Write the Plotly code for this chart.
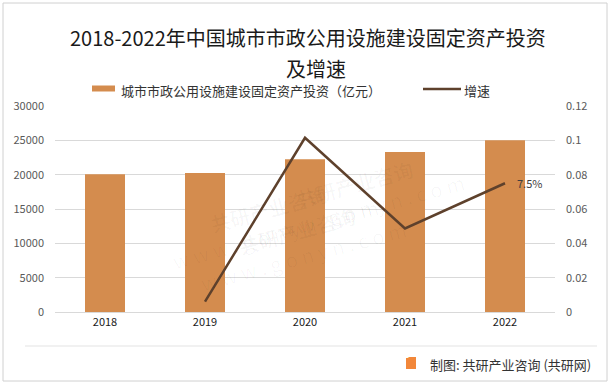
import plotly.graph_objects as go

years = ["2018", "2019", "2020", "2021", "2022"]
investment = [20050, 20250, 22250, 23300, 25000]
growth = [None, 0.006, 0.1015, 0.0487, 0.075]
growth_label = "7.5%"

bar_name = "城市市政公用设施建设固定资产投资（亿元）"
line_name = "增速"
title_line1 = "2018-2022年中国城市市政公用设施建设固定资产投资"
title_line2 = "及增速"
footer_text = "制图: 共研产业咨询 (共研网)"

FONT = "Noto Sans CJK SC, Microsoft YaHei, sans-serif"
BAR_COLOR = "#D48C4E"
LINE_COLOR = "#5E412C"
GRID = "#D9D9D9"

W, H = 615, 386
ML, MR, MT, MB = 55, 60, 106, 74
pw, ph = W - ML - MR, H - MT - MB
def px(x): return (x - ML) / pw
def py(y): return (H - MB - y) / ph

fig = go.Figure()
fig.add_trace(go.Bar(
    x=years, y=investment, name=bar_name,
    marker=dict(color=BAR_COLOR, line=dict(width=0)),
    width=0.4, yaxis="y",
))
fig.add_trace(go.Scatter(
    x=years, y=growth, name=line_name, mode="lines",
    line=dict(color=LINE_COLOR, width=2.5),
    yaxis="y2", connectgaps=False,
))

annotations = []
# faint watermarks
wm = [(160, 165), (470, 140), (300, 300)]
for (wx, wy) in wm:
    annotations.append(dict(
        x=px(wx), y=py(wy), xref="paper", yref="paper", showarrow=False,
        text="<b>共研产业咨询</b><br>w w w . g o n y n . c o m",
        textangle=-15, font=dict(size=20, color="rgba(0,0,0,0.03)", family=FONT),
    ))

# title
annotations.append(dict(x=px(308), y=py(38), xref="paper", yref="paper", showarrow=False,
                        text=title_line1, xanchor="center", yanchor="middle",
                        font=dict(size=20, color="#1a1a1a", family=FONT)))
annotations.append(dict(x=px(316), y=py(68), xref="paper", yref="paper", showarrow=False,
                        text=title_line2, xanchor="center", yanchor="middle",
                        font=dict(size=20, color="#1a1a1a", family=FONT)))
# legend text
annotations.append(dict(x=px(119), y=py(90), xref="paper", yref="paper", showarrow=False,
                        text=bar_name, xanchor="left", yanchor="middle",
                        font=dict(size=13, color="#333333", family=FONT)))
annotations.append(dict(x=px(462), y=py(90), xref="paper", yref="paper", showarrow=False,
                        text=line_name, xanchor="left", yanchor="middle",
                        font=dict(size=13, color="#333333", family=FONT)))
# data label at the last growth point
annotations.append(dict(x=len(years) - 1, y=growth[-1], xref="x", yref="y2", showarrow=False,
                        text=growth_label, xanchor="left", yanchor="middle", xshift=10,
                        font=dict(size=11, color="#404040", family=FONT)))
# footer
annotations.append(dict(x=px(428), y=py(364), xref="paper", yref="paper", showarrow=False,
                        text=footer_text, xanchor="left", yanchor="middle",
                        font=dict(size=13, color="#333333", family=FONT)))
annotations.append(dict(x=px(411), y=py(363), xref="paper", yref="paper", showarrow=False,
                        text="<b>G</b>", font=dict(size=9, color="white", family=FONT)))

shapes = [
    dict(type="rect", xref="paper", yref="paper", x0=px(3), x1=px(607), y0=py(381), y1=py(3),
         line=dict(color="#D0D0D0", width=1), fillcolor="rgba(0,0,0,0)", layer="below"),
    dict(type="line", xref="paper", yref="paper", x0=px(25), x1=px(597), y0=py(346), y1=py(346),
         line=dict(color="#E3E3E3", width=1)),
    dict(type="rect", xref="paper", yref="paper", x0=px(406), x1=px(416), y0=py(369), y1=py(357),
         line=dict(width=0), fillcolor="#F2873A", layer="below"),
    # legend swatches
    dict(type="rect", xref="paper", yref="paper", x0=px(92), x1=px(115), y0=py(91.5), y1=py(85.5),
         line=dict(width=0), fillcolor=BAR_COLOR),
    dict(type="line", xref="paper", yref="paper", x0=px(423), x1=px(461), y0=py(89), y1=py(89),
         line=dict(color=LINE_COLOR, width=2.5)),
]

fig.update_layout(
    width=W, height=H,
    margin=dict(l=ML, r=MR, t=MT, b=MB, autoexpand=False),
    paper_bgcolor="white", plot_bgcolor="white",
    font=dict(family=FONT, size=11, color="#595959"),
    showlegend=False,
    xaxis=dict(type="category", showgrid=False, showline=True, linecolor=GRID, linewidth=1,
               ticks="", tickfont=dict(size=11, color="#1a1a1a"), range=[-0.5, 4.5]),
    yaxis=dict(range=[0, 30000], dtick=5000, tickformat="d", showgrid=True, gridcolor=GRID,
               gridwidth=1, zeroline=False, showline=False, ticks="", ticklabelstandoff=10,
               tickfont=dict(size=11, color="#595959")),
    yaxis2=dict(range=[0, 0.12], dtick=0.02, overlaying="y", side="right", showgrid=False,
                zeroline=False, showline=False, ticks="", ticklabelstandoff=10,
                tickfont=dict(size=11, color="#595959")),
    annotations=annotations,
    shapes=shapes,
)

fig.write_html("out.html", config={"displayModeBar": False},
               post_script="document.body.style.margin='0';")
